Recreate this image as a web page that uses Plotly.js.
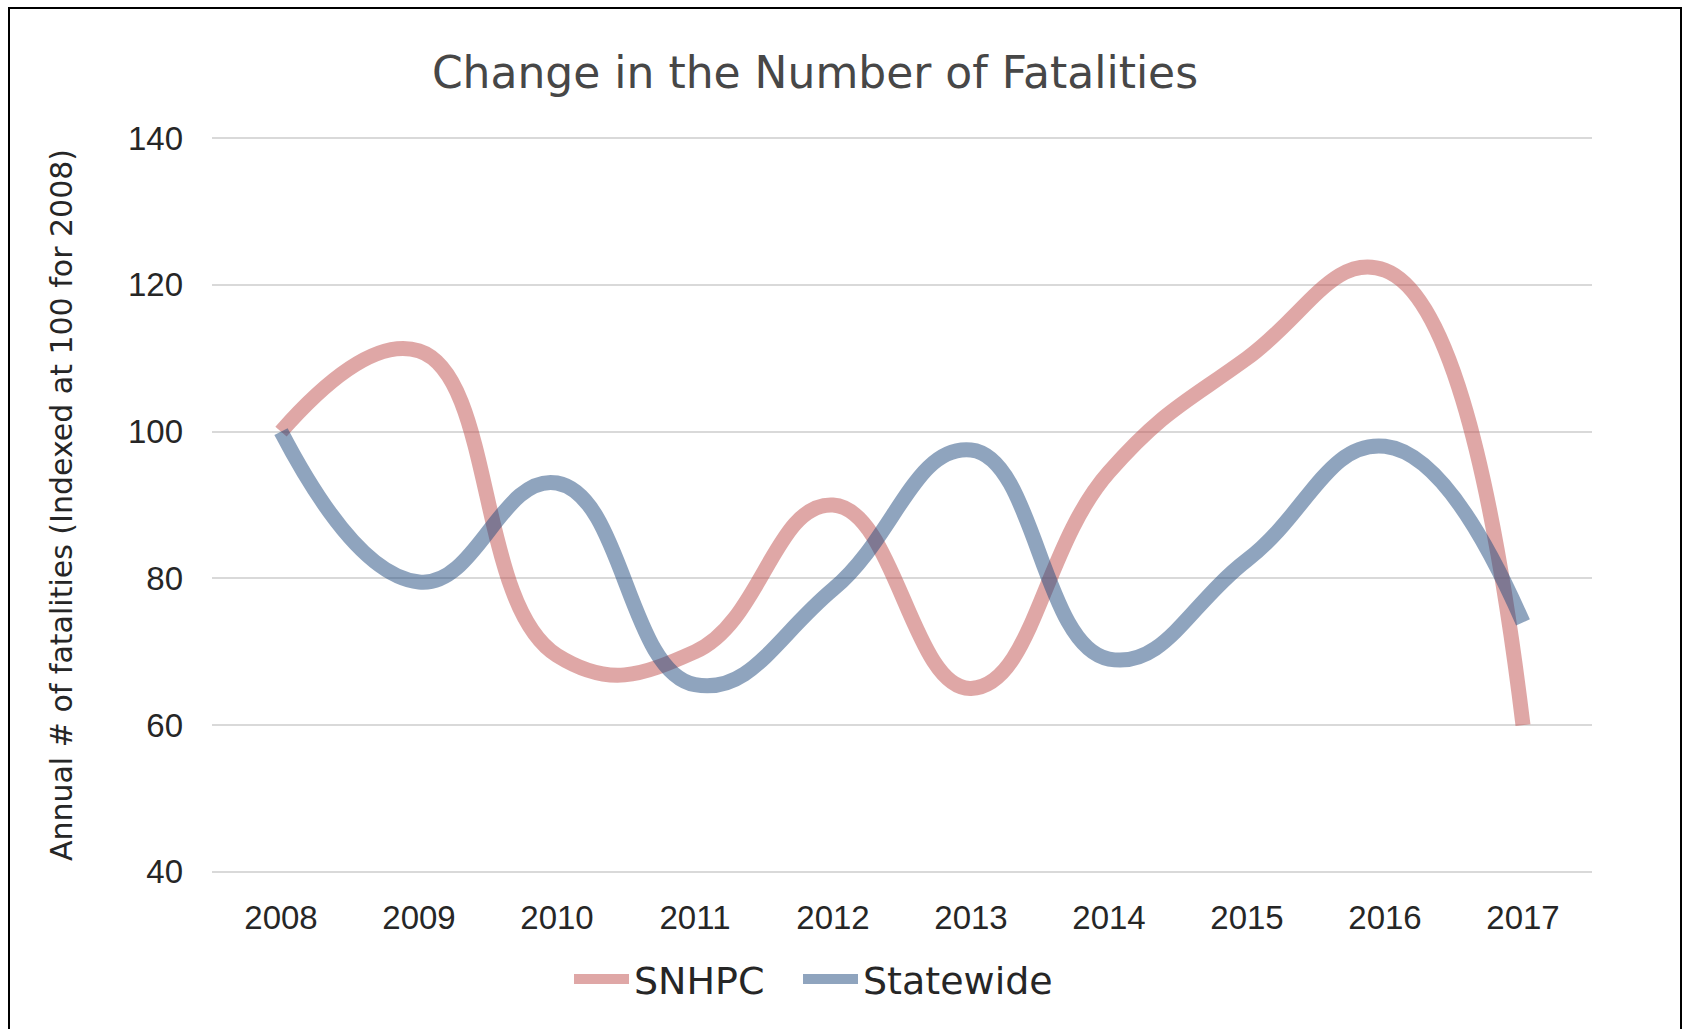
<!DOCTYPE html>
<html>
<head>
<meta charset="utf-8">
<script src="https://cdn.plot.ly/plotly-3.0.1.min.js"></script>
<style>
    body { margin: 0; background: #ffffff; }
    #chart { width: 1687px; height: 1029px; }
    #frame {
        position: absolute; left: 8px; top: 7px; width: 1670px; height: 1040px;
        border: 2px solid #000000; pointer-events: none;
    }
</style>
</head>
<body>
<div id="chart"></div>
<div id="frame"></div>
<script>
const years = ['2008', '2009', '2010', '2011', '2012', '2013', '2014', '2015', '2016', '2017'];
const snhpc = [100, 111, 69.5, 70, 90, 65, 94.5, 110, 122, 60];
const statewide = [100, 79.5, 93, 65.5, 78.5, 97.5, 69, 82.5, 98, 74];

const textFont = 'DejaVu Sans, Open Sans, sans-serif';
const tickFont = 'Liberation Sans, Arial, sans-serif';

const traces = [
    {
        x: years, y: snhpc, name: 'SNHPC', mode: 'lines', legend: 'legend',
        line: {color: 'rgba(192,80,77,0.5)', width: 15, shape: 'spline', smoothing: 1.3},
    },
    {
        x: years, y: statewide, name: 'Statewide', mode: 'lines', legend: 'legend2',
        line: {color: 'rgba(31,73,125,0.5)', width: 15, shape: 'spline', smoothing: 1.3},
    },
];

function legendAt(px) {
    return {
        orientation: 'h',
        x: (px - 212) / 1380, xanchor: 'left',
        y: -0.1, yanchor: 'top',
        itemwidth: 55,
        font: {family: textFont, size: 38, color: '#262626'},
        bgcolor: 'rgba(0,0,0,0)',
    };
}

// plot area: 140 at y=137.7, 40 at y=871.5; range padded a little so edge gridlines show
const layout = {
    width: 1687,
    height: 1029,
    margin: {l: 212, r: 95, t: 135.5, b: 155.3},
    paper_bgcolor: '#ffffff',
    plot_bgcolor: '#ffffff',
    showlegend: true,
    title: {
        text: 'Change in the Number of Fatalities',
        xref: 'paper', xanchor: 'center',
        x: (815 - 212) / 1380,
        y: 1 - 73 / 1029, yref: 'container', yanchor: 'middle',
        font: {family: textFont, size: 44, color: '#474747'},
    },
    xaxis: {
        type: 'category',
        range: [-0.5, 9.5],
        showgrid: false,
        zeroline: false,
        showline: false,
        ticks: '',
        ticklabelstandoff: 21,
        tickfont: {family: tickFont, size: 33, color: '#262626'},
    },
    yaxis: {
        range: [39.7, 140.3],
        tickvals: [40, 60, 80, 100, 120, 140],
        showgrid: true,
        gridcolor: '#d9d9d9',
        gridwidth: 2,
        zeroline: false,
        showline: false,
        ticks: '',
        ticklabelstandoff: 28,
        tickfont: {family: tickFont, size: 33, color: '#262626'},
        title: {
            text: 'Annual # of fatalities (Indexed at 100 for 2008)',
            standoff: 46,
            font: {family: textFont, size: 30, color: '#262626'},
        },
    },
    legend: legendAt(569),
    legend2: legendAt(798),
};

Plotly.newPlot('chart', traces, layout, {displayModeBar: false, staticPlot: true});
</script>
</body>
</html>
